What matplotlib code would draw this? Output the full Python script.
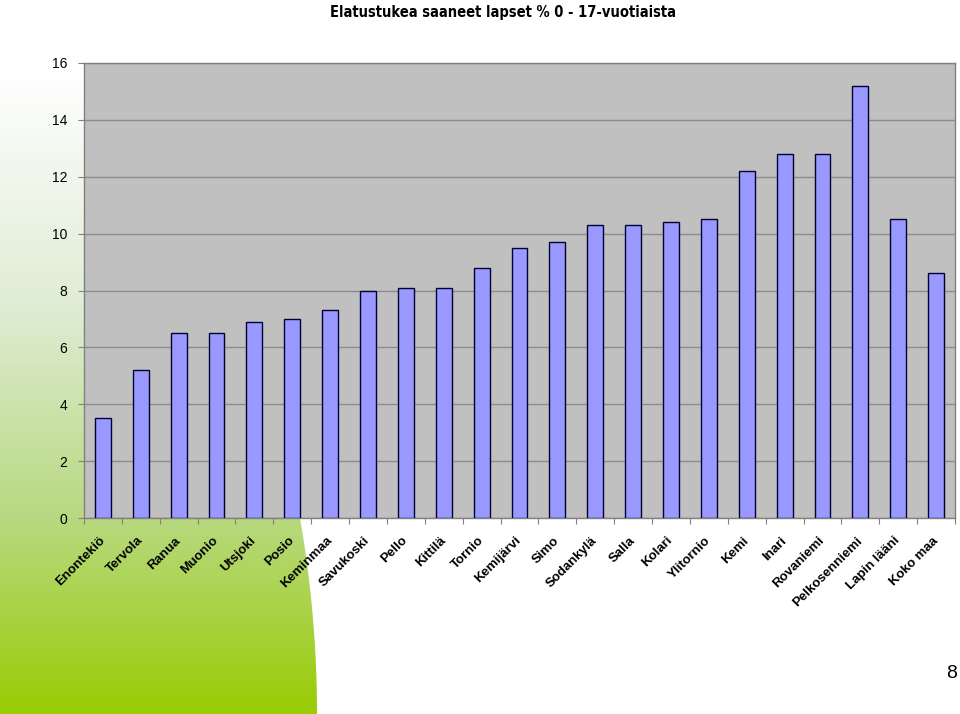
import matplotlib.pyplot as plt
import numpy as np
from matplotlib.patches import Polygon

# kunnat ja osuudet (%)
kunnat = ['Enontekiö', 'Tervola', 'Ranua', 'Muonio', 'Utsjoki', 'Posio',
          'Keminmaa', 'Savukoski', 'Pello', 'Kittilä', 'Tornio', 'Kemijärvi',
          'Simo', 'Sodankylä', 'Salla', 'Kolari', 'Ylitornio', 'Kemi', 'Inari',
          'Rovaniemi', 'Pelkosenniemi', 'Lapin lääni', 'Koko maa']
osuus = [3.5, 5.2, 6.5, 6.5, 6.9, 7.0, 7.3, 8.0, 8.1, 8.1, 8.8, 9.5,
         9.7, 10.3, 10.3, 10.4, 10.5, 12.2, 12.8, 12.8, 15.2, 10.5, 8.6]
y_ticks = [0, 2, 4, 6, 8, 10, 12, 14, 16]

plt.rcParams['font.family'] = ['Liberation Sans', 'DejaVu Sans']

fig = plt.figure(figsize=(9.6, 7.14), dpi=100)

# vihreä liukuväri vasemmassa alakulmassa
bg = fig.add_axes([0, 0, 1, 1], zorder=0)
bg.set_xlim(0, 960)
bg.set_ylim(714, 0)
bg.axis('off')
ys = np.linspace(0, 714, 300)
edge_x = 317 - 0.000443 * (714 - ys) ** 2
poly = Polygon(np.column_stack([np.r_[edge_x, 0, 0], np.r_[ys, 714, 0]]),
               closed=True, facecolor='none', edgecolor='none')
bg.add_patch(poly)
stops_y = [0, 70, 300, 520, 714]
stops_c = np.array([[1, 1, 1], [1, 1, 1], [0.88, 0.93, 0.84],
                    [0.72, 0.85, 0.50], [0.60, 0.80, 0.02]])
grad = np.stack([np.interp(ys, stops_y, stops_c[:, i]) for i in range(3)], axis=1)
img = bg.imshow(np.repeat(grad[:, None, :], 2, axis=1), extent=[0, 330, 714, 0],
                aspect='auto', interpolation='bilinear')
img.set_clip_path(poly)

ax = fig.add_axes([84 / 960, 1 - 518 / 714, 871 / 960, 455 / 714], zorder=1)
ax.set_facecolor('#C0C0C0')
x = np.arange(len(kunnat))
ax.bar(x, osuus, width=0.42, color='#9999FF', edgecolor='#000033', linewidth=1.0, zorder=3)

ax.set_xlim(-0.5, len(kunnat) - 0.5)
ax.set_ylim(0, 16)
ax.set_yticks(y_ticks)
ax.set_yticklabels([str(v) for v in y_ticks], fontsize=10)
ax.yaxis.grid(True, color='#8C8C8C', linewidth=1.0, zorder=0)
ax.set_axisbelow(True)

ax.set_xticks(np.arange(len(kunnat) + 1) - 0.5)
ax.set_xticklabels([])
ax.set_xticks(x, minor=True)
ax.set_xticklabels(kunnat, minor=True, rotation=45, ha='right', va='center',
                   rotation_mode='anchor', fontsize=9.5, fontweight='bold')
ax.tick_params(axis='x', which='minor', length=0, pad=15)
ax.tick_params(axis='x', which='major', length=4, color='#808080', direction='out')
ax.tick_params(axis='y', length=4, color='#808080', pad=8)

for s in ax.spines.values():
    s.set_color('#808080')
    s.set_linewidth(1.0)

fig.text(503 / 960, 1 - 12 / 714, 'Elatustukea saaneet lapset % 0 - 17-vuotiaista',
         ha='center', va='center', fontsize=10.5, fontweight='bold',
         fontstretch='condensed', family=['DejaVu Sans'])
fig.text(952 / 960, 1 - 673 / 714, '8', ha='center', va='center', fontsize=14)

fig.savefig('out.png', dpi=100)
